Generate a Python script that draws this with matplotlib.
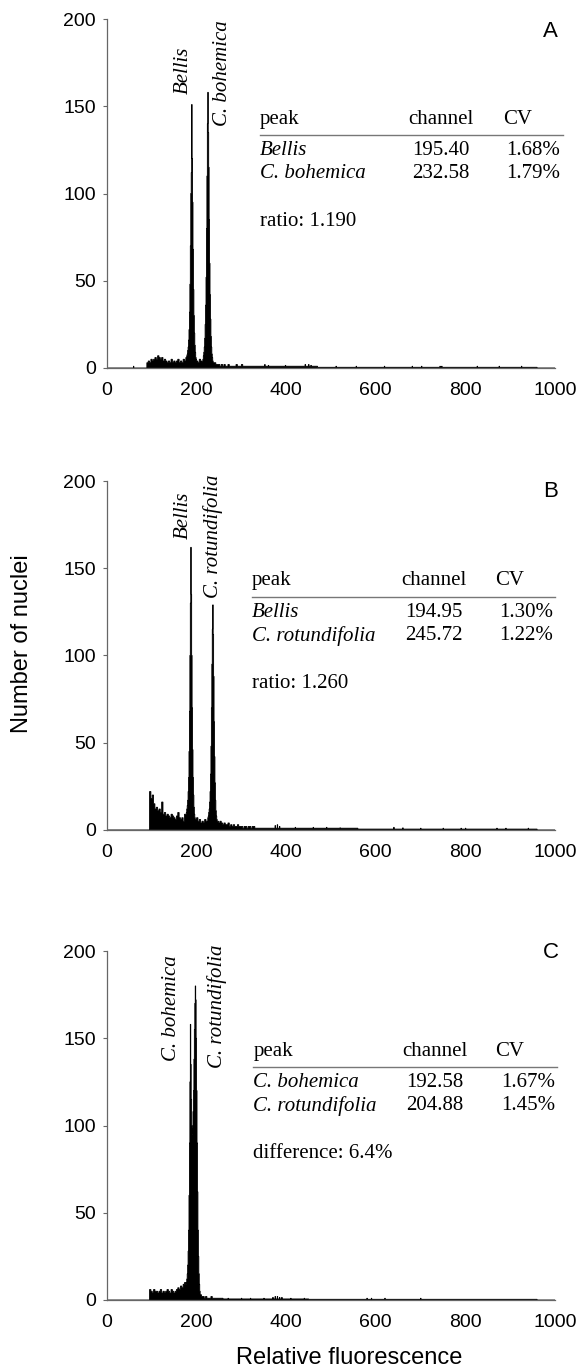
import matplotlib
matplotlib.use('Agg')
import matplotlib.pyplot as plt
import numpy as np

plt.rcParams['font.family'] = 'Liberation Sans'

# ---- data (channel, counts) ----
# background before the first peak: start channel, 3-channel bins
A_bg_start = 89
A_bg = [3, 4, 3, 5, 4, 5, 6, 5, 7, 6, 5, 6, 4, 5, 4, 3, 4, 3, 5, 3, 4, 3, 4, 5, 3, 4, 3, 5, 4, 6]
A_peak1_start = 178
A_peak1 = [7, 8, 10, 12, 16, 22, 32, 48, 70, 100, 112, 151, 120, 95, 68, 45, 30, 20, 13, 9, 6, 5]
A_mid_start = 200
A_mid = [4, 3, 5, 4, 3]
A_peak2_start = 214
A_peak2 = [5, 7, 9, 12, 17, 25, 36, 52, 80, 110, 140, 158, 135, 115, 85, 60, 42, 28, 18, 12,
           8, 6, 4]
A_tail_start = 237
A_tail = [3, 3, 2, 2, 2, 1, 2, 1, 2, 1, 1, 2, 1, 1, 1, 1, 1, 2, 1, 1, 1, 2]
A_levels = [(303, 470, 1.0), (470, 960, 0.4)]
A_spikes = [(59, 1), (352, 2), (360, 1.5), (398, 1.5), (442, 2), (450, 2), (455, 1.5),
            (511, 1), (556, 1), (619, 1), (681, 1), (702, 1), (743, 1), (747, 1),
            (826, 1), (875, 1), (925, 1)]

B_bg_start = 95
B_bg = [22, 18, 20, 15, 12, 13, 11, 12, 10, 16, 9, 10, 8, 9, 8, 7, 9, 8, 7, 6, 8, 10, 7, 6, 7, 5, 9]
B_peak1_start = 176
B_peak1 = [9, 10, 12, 14, 17, 22, 30, 45, 68, 100, 130, 162, 135, 100, 70, 46, 30, 20, 13, 9, 7]
B_mid_start = 197
B_mid = [6, 7, 5, 6, 4, 5, 4, 6, 5, 4]
B_peak2_start = 225
B_peak2 = [7, 8, 10, 12, 16, 22, 32, 48, 70, 95, 115, 129, 112, 88, 62, 42, 27, 17, 11, 8, 6]
B_tail_start = 246
B_tail = [5, 4, 5, 4, 3, 4, 3, 3, 4, 2, 3, 2, 3, 2, 2, 3, 2, 2, 2, 1, 2, 2, 1, 2, 2, 1, 2, 2]
B_levels = [(330, 560, 1.0), (560, 960, 0.5)]
B_spikes = [(375, 2.5), (380, 3), (385, 2), (420, 1.5), (460, 1.5), (490, 1.5), (520, 1.2),
            (640, 1.5), (660, 1.2), (700, 1), (750, 1), (790, 1), (800, 1), (870, 1),
            (890, 1), (940, 1)]

C_bg_start = 95
C_bg = [6, 5, 4, 6, 5, 5, 4, 5, 6, 4, 5, 4, 5, 6, 5, 4, 6, 5, 4, 5, 6, 7, 6, 8, 7, 9, 10]
C_peak1_start = 176
C_peak1 = [9, 10, 12, 15, 20, 28, 40, 60, 90, 125, 158, 135, 115, 100, 95, 98, 108, 120,
           138, 155, 170, 180, 172, 150, 120, 90, 62, 40, 25, 15, 9, 5]
C_mid_start = 208
C_mid = [3, 2, 2, 1, 2, 1, 1, 1, 2, 1, 1, 1, 1, 1, 1, 1, 1]
C_peak2_start = 260
C_peak2 = []
C_tail_start = 260
C_tail = []
C_levels = [(259, 450, 0.6), (450, 960, 0.4)]
C_spikes = [(255, 1), (270, 1), (300, 1), (320, 1), (350, 1), (370, 1.5), (375, 2),
            (380, 2), (385, 1.5), (390, 1.5), (410, 1), (440, 1), (580, 1), (590, 1),
            (620, 1), (700, 1)]

# peak labels: text, channel, count
A_labels = [('Bellis', 170, 157), ('C. bohemica', 258, 138.5)]
B_labels = [('Bellis', 171, 167), ('C. rotundifolia', 237, 133)]
C_labels = [('C. bohemica', 144, 137), ('C. rotundifolia', 245, 133)]

# tables
A_rows = [('Bellis', '195.40', '1.68%'), ('C. bohemica', '232.58', '1.79%')]
B_rows = [('Bellis', '194.95', '1.30%'), ('C. rotundifolia', '245.72', '1.22%')]
C_rows = [('C. bohemica', '192.58', '1.67%'), ('C. rotundifolia', '204.88', '1.45%')]
A_note = 'ratio: 1.190'
B_note = 'ratio: 1.260'
C_note = 'difference: 6.4%'


def build(bg_start, bg, p1s, p1, ms, mid, p2s, p2, ts, tail, levels, spikes):
    counts = np.zeros(1000)
    for a, b, lev in levels:
        counts[a:b] = lev
    for i, v in enumerate(bg):
        counts[bg_start + 3 * i: bg_start + 3 * i + 3] = v
    for i, v in enumerate(mid):
        counts[ms + 3 * i: ms + 3 * i + 3] = v
    for i, v in enumerate(tail):
        counts[ts + 3 * i: ts + 3 * i + 3] = v
    for i, v in enumerate(p1):
        counts[p1s + i] = v
    for i, v in enumerate(p2):
        counts[p2s + i] = v
    for c, v in spikes:
        counts[c] = max(counts[c], v)
    return counts


A_counts = build(A_bg_start, A_bg, A_peak1_start, A_peak1, A_mid_start, A_mid,
                 A_peak2_start, A_peak2, A_tail_start, A_tail, A_levels, A_spikes)
B_counts = build(B_bg_start, B_bg, B_peak1_start, B_peak1, B_mid_start, B_mid,
                 B_peak2_start, B_peak2, B_tail_start, B_tail, B_levels, B_spikes)
C_counts = build(C_bg_start, C_bg, C_peak1_start, C_peak1, C_mid_start, C_mid,
                 C_peak2_start, C_peak2, C_tail_start, C_tail, C_levels, C_spikes)

fig = plt.figure(figsize=(5.83, 13.70), dpi=100)
serif = 'Liberation Serif'
gcol = '#666666'

panels = [
    (0.7314, A_counts, A_labels, A_rows, A_note, 'A', 341, 673, 809, 884, 1012, 1017, 193),
    (0.3942, B_counts, B_labels, B_rows, B_note, 'B', 324, 656, 793, 867, 996, 1001, 194),
    (0.0511, C_counts, C_labels, C_rows, C_note, 'C', 327, 658, 795, 867, 1000, 1004, 199),
]

edges = np.arange(0, 1001)
for bottom, counts, labels, rows, note, letter, nx, chx, chr_, cvx, cvr, lx1, ly in panels:
    ax = fig.add_axes([0.1835, bottom, 0.7685, 0.2547])
    ax.stairs(counts, edges, fill=True, color='black', lw=0)
    ax.stairs(counts, edges, color='black', lw=0.6)
    ax.set_xlim(0, 1000)
    ax.set_ylim(0, 200)
    ax.set_xticks([0, 200, 400, 600, 800, 1000])
    ax.set_yticks([0, 50, 100, 150, 200])
    for s in ['top', 'right']:
        ax.spines[s].set_visible(False)
    for s in ['left', 'bottom']:
        ax.spines[s].set_color(gcol)
        ax.spines[s].set_linewidth(0.9)
    ax.tick_params(axis='y', length=3, width=0.8, color=gcol, pad=5, labelsize=14)
    ax.tick_params(axis='x', length=0, pad=10, labelsize=14)

    for txt, x, y in labels:
        ax.text(x, y, txt, rotation=90, ha='center', va='bottom', family=serif,
                style='italic', fontsize=15)

    ax.text(nx, 142.7, 'peak', family=serif, fontsize=15, va='center', ha='left')
    ax.text(chx, 142.7, 'channel', family=serif, fontsize=15, va='center', ha='left')
    ax.text(cvx, 142.7, 'CV', family=serif, fontsize=15, va='center', ha='left')
    ax.plot([nx, lx1], [133.5, 133.5], color='#777777', lw=1.0, clip_on=False)
    for (name, ch, cv), y in zip(rows, [124.6, 111.3]):
        ax.text(nx, y, name, family=serif, style='italic', fontsize=15, va='center', ha='left')
        ax.text(chr_, y, ch, family=serif, fontsize=15, va='center', ha='right')
        ax.text(cvr, y, cv, family=serif, fontsize=15, va='center', ha='right')
    ax.text(nx, 84, note, family=serif, fontsize=15, va='center', ha='left')
    ax.text(990, ly, letter, fontsize=16, va='center', ha='center')

fig.text(0.038, 0.53, 'Number of nuclei', rotation=90, ha='center', va='center', fontsize=17)
fig.text(0.599, 0.0088, 'Relative fluorescence', ha='center', va='center', fontsize=17)

fig.savefig('out.png', dpi=100)
